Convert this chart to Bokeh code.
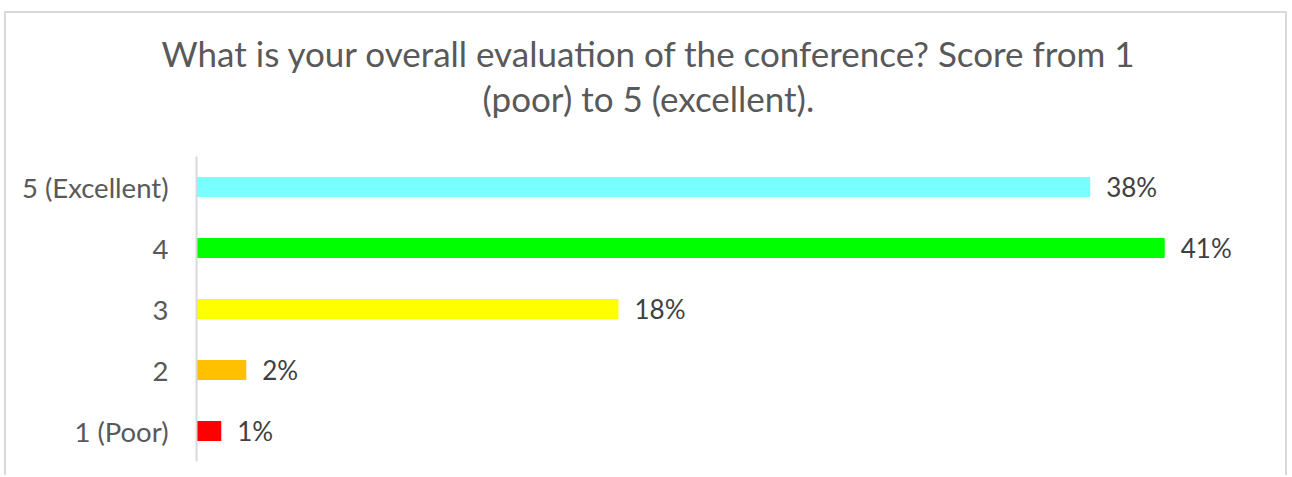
from bokeh.plotting import figure
from bokeh.models import Range1d, FactorRange, Title, ColumnDataSource
from bokeh.embed import file_html
from bokeh.resources import INLINE
from bokeh.core.properties import value

# ---- data ----
categories = ["1 (Poor)", "2", "3", "4", "5 (Excellent)"]
percent = [1.05, 2.11, 17.89, 41.05, 37.89]
pct_labels = ["1%", "2%", "18%", "41%", "38%"]
bar_colors = ["#FF0000", "#FFC000", "#FFFF00", "#00FF00", "#79FFFF"]
title_lines = ["What is your overall evaluation of the conference?  Score from 1",
               "(poor) to 5 (excellent)."]

W, H = 1283, 464
FONT = "Lato"

src = ColumnDataSource(dict(cat=categories, pct=percent, lab=pct_labels, col=bar_colors))

p = figure(width=W, height=H, output_backend="svg", toolbar_location=None,
           y_range=FactorRange(*categories), x_range=Range1d(0, 46.0),
           min_border_left=190, min_border_right=8, min_border_top=143,
           min_border_bottom=16)
p.outline_line_color = None
p.xgrid.visible = False
p.ygrid.visible = False
p.xaxis.visible = False

p.hbar(y="cat", right="pct", left=0, height=0.328, fill_color="col",
       line_color=None, source=src)
p.text(x="pct", y="cat", text="lab", source=src, x_offset=16,
       text_baseline="middle", text_align="left",
       text_font=value(FONT), text_font_size="26px", text_color="#404040")

ax = p.yaxis[0]
ax.axis_line_color = "#D9D9D9"
ax.axis_line_width = 2
ax.major_tick_line_color = None
ax.minor_tick_line_color = None
ax.major_tick_out = 0
ax.major_tick_in = 0
ax.major_label_standoff = 28
ax.major_label_text_font = FONT
ax.major_label_text_font_size = "27.5px"
ax.major_label_text_color = "#595959"

# spacer between the title and the plot area
p.add_layout(Title(text=" ", standoff=24, text_font=FONT, text_font_size="10px"), "above")
# title: second line nearest to the frame is added first
offsets = [-35, 286]
standoffs = [1, 0]
for i in (1, 0):
    p.add_layout(Title(text=title_lines[i], align="left", offset=offsets[i],
                       standoff=standoffs[i], text_font=FONT, text_font_size="35px",
                       text_font_style="normal", text_color="#595959"), "above")

p.styles = {"margin-left": "4px", "margin-top": "11px",
            "border-top": "2px solid #D9D9D9", "border-left": "2px solid #D9D9D9",
            "border-right": "2px solid #D9D9D9"}

open("out.html", "w").write(file_html(p, INLINE))
